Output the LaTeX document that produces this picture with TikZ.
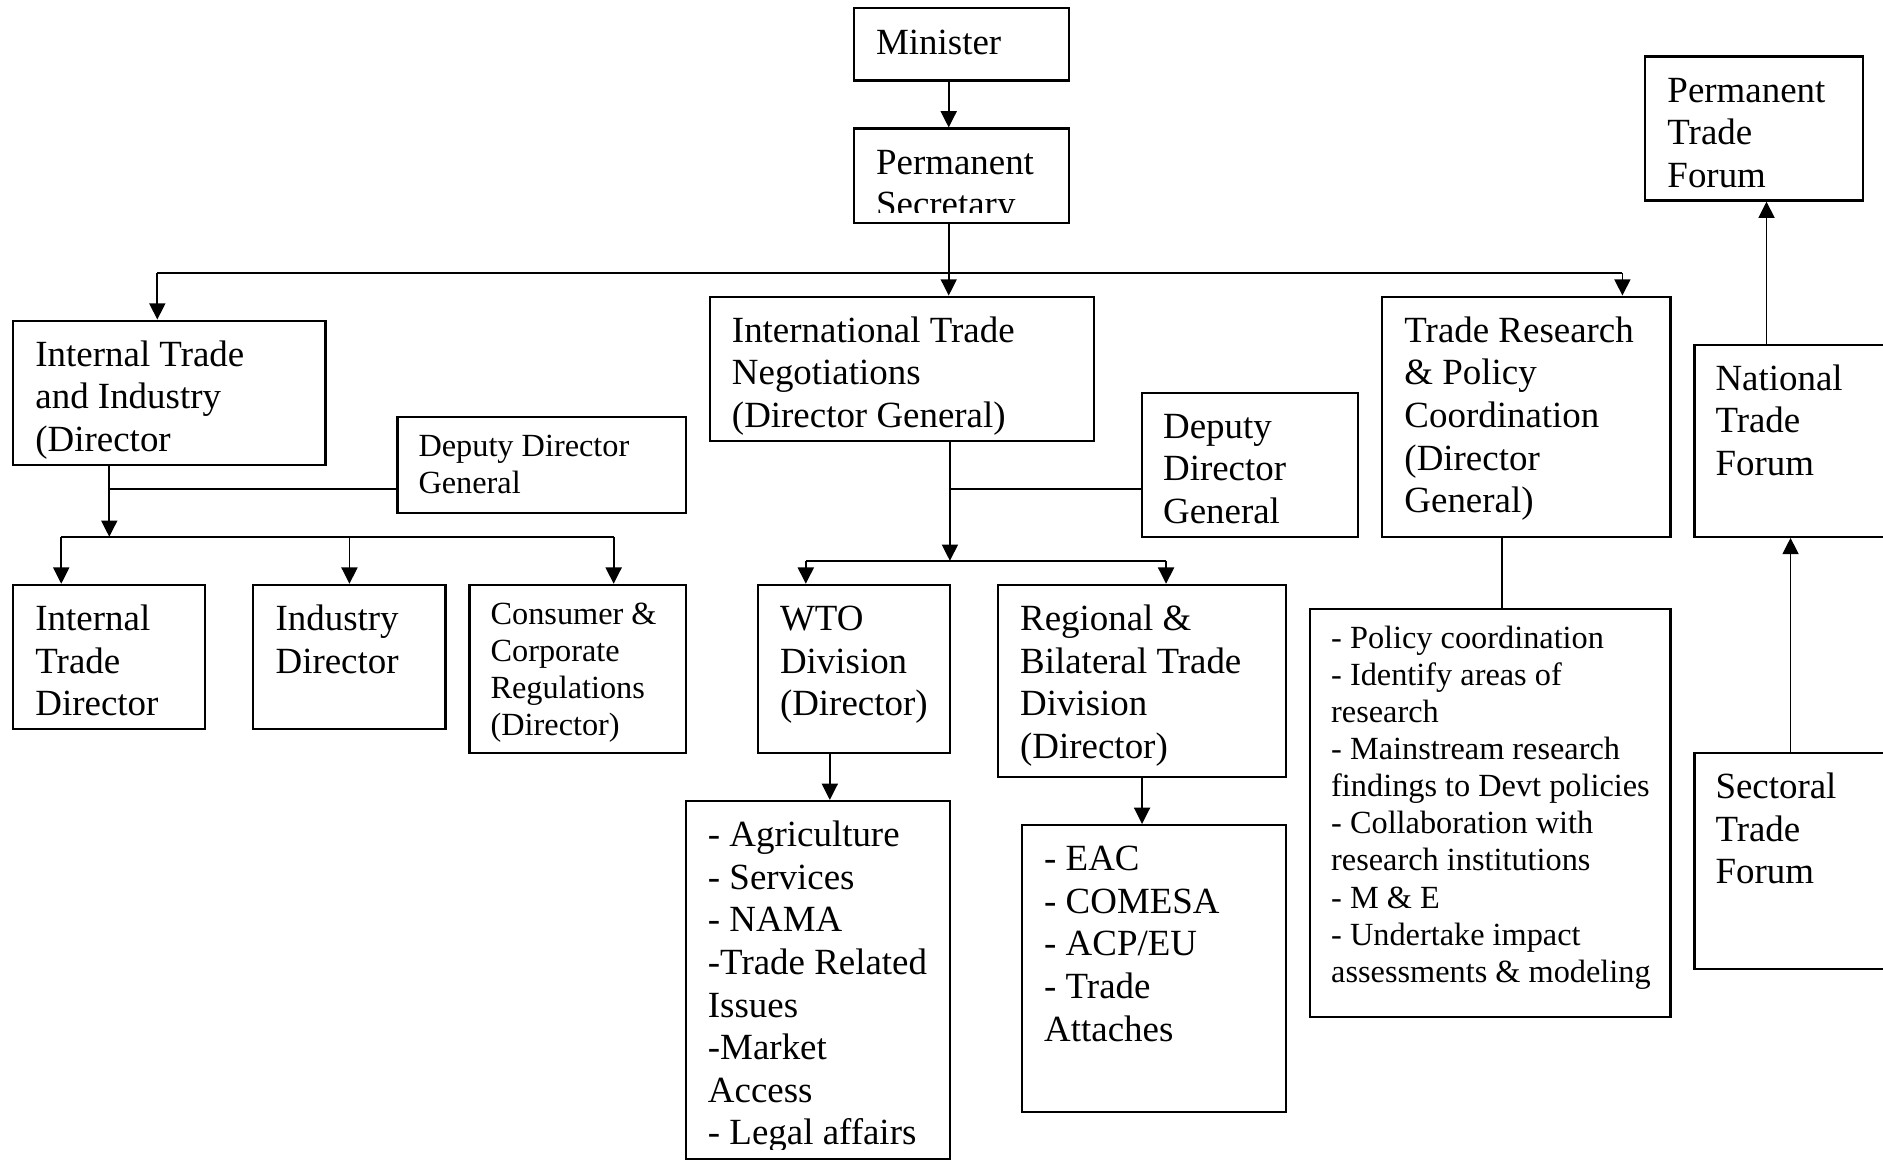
\documentclass[tikz,border=0pt]{standalone}
\usepackage{fontspec}
\setmainfont{Liberation Serif}
\usetikzlibrary{arrows.meta,fit}
\newcommand\txtlines[1]{\begin{tabular}[t]{@{}l@{}}#1\end{tabular}}
\begin{document}
\begin{tikzpicture}[x=0.013712cm,y=-0.013712cm,
  box/.style={draw, line width=0.7pt, inner sep=0pt},
  big/.style={anchor=base west, inner sep=0pt, font=\fontsize{12}{13.85}\selectfont},
  small/.style={anchor=base west, inner sep=0pt, font=\fontsize{10.5}{12.05}\selectfont},
  link/.style={line width=0.6pt},
  arr/.style={link, -{Triangle[length=5.3pt,width=5.2pt]}}]

\useasboundingbox (0,0) rectangle (1568,966);
\clip (0,0) rectangle (1568,966);
\fill[white] (0,0) rectangle (1568,966);

% ---------- boxes ----------
\node[box, fit={(711,7) (890,67)}] (min) {};
\node[box, fit={(711,107) (890,186)}] (ps) {};
\node[box, fit={(11,267) (271,387)}] (iti) {};
\node[box, fit={(331,347) (571,427)}] (ddgl) {};
\node[box, fit={(11,487) (171,607)}] (itd) {};
\node[box, fit={(211,487) (371,607)}] (ind) {};
\node[box, fit={(391,487) (571,627)}] (ccr) {};
\node[box, fit={(591,247) (911,367)}] (itn) {};
\node[box, fit={(951,327) (1131,447)}] (ddgm) {};
\node[box, fit={(631,487) (791,627)}] (wto) {};
\node[box, fit={(831,487) (1071,647)}] (rbt) {};
\node[box, fit={(571,667) (791,965)}] (wtol) {};
\node[box, fit={(851,687) (1071,926)}] (rbtl) {};
\node[box, fit={(1151,247) (1391,447)}] (trp) {};
\node[box, fit={(1091,507) (1391,847)}] (trpl) {};
\node[box, fit={(1370,47) (1551,167)}] (ptf) {};
\node[box, fit={(1411,287) (1600,447)}] (ntf) {};
\node[box, fit={(1411,627) (1600,807)}] (stf) {};

% ---------- texts ----------
\node[big] (min-t) at (729,45) {\txtlines{Minister}};
\begin{scope}
  \clip (711,107) rectangle (890,177);
  \node[big] (ps-t) at (729,145) {\txtlines{Permanent\\Secretary}};
\end{scope}
\node[big] (iti-t) at (29,305) {\txtlines{Internal Trade\\and Industry\\(Director}};
\node[small] (ddgl-t) at (348,380) {\txtlines{Deputy Director\\General}};
\node[big] (itd-t) at (29,525) {\txtlines{Internal\\Trade\\Director}};
\node[big] (ind-t) at (229,525) {\txtlines{Industry\\Director}};
\node[small] (ccr-t) at (408,520) {\txtlines{Consumer \&\\Corporate\\Regulations\\(Director)}};
\node[big] (itn-t) at (609,285) {\txtlines{International Trade\\Negotiations\\(Director General)}};
\node[big] (ddgm-t) at (968,365) {\txtlines{Deputy\\Director\\General}};
\node[big] (wto-t) at (649,525) {\txtlines{WTO\\Division\\(Director)}};
\node[big] (rbt-t) at (849,525) {\txtlines{Regional \&\\Bilateral Trade\\Division\\(Director)}};
\begin{scope}
  \clip (571,667) rectangle (791,957);
  \node[big] (wtol-t) at (589,705) {\txtlines{- Agriculture\\- Services\\- NAMA\\-Trade Related\\Issues\\-Market\\Access\\- Legal affairs}};
\end{scope}
\node[big] (rbtl-t) at (869,725) {\txtlines{- EAC\\- COMESA\\- ACP/EU\\- Trade\\Attaches}};
\node[big] (trp-t) at (1169,285) {\txtlines{Trade Research\\\& Policy\\Coordination\\(Director\\General)}};
\node[small] (trpl-t) at (1108,540) {\txtlines{- Policy coordination\\- Identify areas of\\research\\- Mainstream research\\findings to Devt policies\\- Collaboration with\\research institutions\\- M \& E\\- Undertake impact\\assessments \& modeling}};
\node[big] (ptf-t) at (1388,85) {\txtlines{Permanent\\Trade\\Forum}};
\node[big] (ntf-t) at (1428,325) {\txtlines{National\\Trade\\Forum}};
\node[big] (stf-t) at (1428,665) {\txtlines{Sectoral\\Trade\\Forum}};

% ---------- junction points ----------
\coordinate (trunk) at (790,227);
\coordinate (jl) at (131,227);
\coordinate (jr) at (1351,227);
\coordinate (lb) at (91,447);
\coordinate (lh) at (91,407);
\coordinate (la) at (51,447);
\coordinate (lm) at (291,447);
\coordinate (lc) at (511,447);
\coordinate (mb) at (791,467);
\coordinate (mh) at (791,407);
\coordinate (ma) at (671,467);
\coordinate (mc) at (971,467);
\coordinate (wx) at (691,0);
\coordinate (rx) at (951,0);
\coordinate (tx) at (1251,0);
\coordinate (px) at (1471,0);
\coordinate (sx) at (1491,0);

% ---------- connectors ----------
\draw[arr] (min.south -| trunk) -- (ps.north -| trunk);
\draw[link] (ps.south -| trunk) -- (trunk);
\draw[link] (jl) -- (jr);
\draw[arr] (trunk) -- (itn.north -| trunk);
\draw[arr] (jl) -- (iti.north -| jl);
\draw[arr] (jr) -- (trp.north -| jr);

\draw[arr] (iti.south -| lb) -- (lb);
\draw[link] (lh) -- (lh -| ddgl.west);
\draw[link] (la) -- (lc);
\draw[arr] (la) -- (itd.north -| la);
\draw[arr] (lm) -- (ind.north -| lm);
\draw[arr] (lc) -- (ccr.north -| lc);

\draw[arr] (itn.south -| mb) -- (mb);
\draw[link] (mh) -- (mh -| ddgm.west);
\draw[link] (ma) -- (mc);
\draw[arr] (ma) -- (wto.north -| ma);
\draw[arr] (mc) -- (rbt.north -| mc);

\draw[arr] (wto.south -| wx) -- (wtol.north -| wx);
\draw[arr] (rbt.south -| rx) -- (rbtl.north -| rx);
\draw[link] (trp.south -| tx) -- (trpl.north -| tx);
\draw[arr] (ntf.north -| px) -- (ptf.south -| px);
\draw[arr] (stf.north -| sx) -- (ntf.south -| sx);
\end{tikzpicture}
\end{document}
